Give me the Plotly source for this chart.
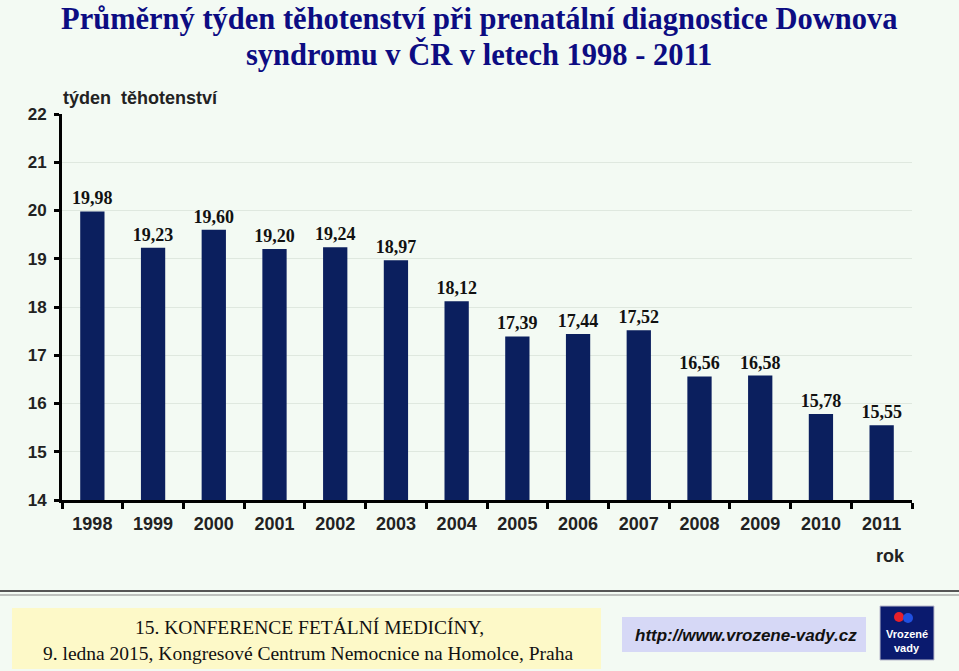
import plotly.graph_objects as go

years = ["1998", "1999", "2000", "2001", "2002", "2003", "2004",
         "2005", "2006", "2007", "2008", "2009", "2010", "2011"]
weeks = [19.98, 19.23, 19.60, 19.20, 19.24, 18.97, 18.12,
         17.39, 17.44, 17.52, 16.56, 16.58, 15.78, 15.55]
labels = [f"{v:.2f}".replace(".", ",") for v in weeks]

W, H = 959, 671
L, R, T, B = 62, 912, 114, 500  # plot area in pixels


def px(x):
    return (x - L) / (R - L)


def py(y):
    return (B - y) / (B - T)


BG = "#f3faf3"
fig = go.Figure()
fig.add_trace(go.Bar(
    x=years, y=weeks, base=0, width=0.4,
    marker=dict(color="#0b1f5e", line=dict(width=0)),
    text=labels, textposition="outside", cliponaxis=False, constraintext="none",
    textfont=dict(family="Liberation Serif", size=18, color="#111111", weight="bold"),
))

fig.update_layout(
    width=W, height=H,
    margin=dict(l=L, r=W - R, t=T, b=H - B),
    paper_bgcolor=BG, plot_bgcolor=BG,
    showlegend=False, bargap=0.6,
    xaxis=dict(type="category", showline=True, linecolor="black", linewidth=3,
               ticks="outside", tickson="boundaries", ticklen=6, tickwidth=3,
               tickcolor="black", showgrid=False, ticklabelstandoff=5,
               tickfont=dict(family="Liberation Sans", size=18, color="#222222", weight="bold")),
    yaxis=dict(range=[14, 22], dtick=1, showline=True, linecolor="black", linewidth=3,
               ticks="outside", ticklen=5, tickwidth=3, tickcolor="black", ticklabelstandoff=4,
               showgrid=True, gridcolor="#dfe8df", gridwidth=1, zeroline=False,
               tickfont=dict(family="Liberation Sans", size=17, color="#222222", weight="bold")),
)

ann = []
# Title (two lines)
ann.append(dict(text="<b>Průměrný týden těhotenství při prenatální diagnostice Downova</b>",
                xref="paper", yref="paper", x=px(479), y=py(0), xanchor="center", yanchor="top",
                showarrow=False, font=dict(family="Liberation Serif", size=30.5, color="#0c0c82")))
ann.append(dict(text="<b>syndromu v ČR v letech 1998 - 2011</b>",
                xref="paper", yref="paper", x=px(479), y=py(35.5), xanchor="center", yanchor="top",
                showarrow=False, font=dict(family="Liberation Serif", size=30.5, color="#0c0c82")))
# Axis titles
ann.append(dict(text="<b>týden  těhotenství</b>", xref="paper", yref="paper",
                x=px(61), y=py(98), xanchor="left", yanchor="middle", showarrow=False,
                font=dict(family="Liberation Sans", size=18, color="#222222")))
ann.append(dict(text="<b>rok</b>", xref="paper", yref="paper",
                x=px(890), y=py(556), xanchor="center", yanchor="middle", showarrow=False,
                font=dict(family="Liberation Sans", size=18, color="#222222")))
# Footer texts
ann.append(dict(text="15. KONFERENCE FETÁLNÍ MEDICÍNY,", xref="paper", yref="paper",
                x=px(309), y=py(627), xanchor="center", yanchor="middle", showarrow=False,
                font=dict(family="Liberation Serif", size=19.5, color="#111111")))
ann.append(dict(text="9. ledna 2015, Kongresové Centrum Nemocnice na Homolce, Praha", xref="paper", yref="paper",
                x=px(308), y=py(653), xanchor="center", yanchor="middle", showarrow=False,
                font=dict(family="Liberation Serif", size=19.5, color="#111111")))
ann.append(dict(text="<b><i>http://www.vrozene-vady.cz</i></b>", xref="paper", yref="paper",
                x=px(746), y=py(635), xanchor="center", yanchor="middle", showarrow=False,
                font=dict(family="Liberation Sans", size=17, color="#111111")))
ann.append(dict(text="<b>Vrozené</b>", xref="paper", yref="paper",
                x=px(907), y=py(634), xanchor="center", yanchor="middle", showarrow=False,
                font=dict(family="Liberation Sans", size=11, color="white")))
ann.append(dict(text="<b>vady</b>", xref="paper", yref="paper",
                x=px(907), y=py(648), xanchor="center", yanchor="middle", showarrow=False,
                font=dict(family="Liberation Sans", size=11, color="white")))
fig.update_layout(annotations=ann)

shapes = []
# Footer separator (double line)
shapes.append(dict(type="line", xref="paper", yref="paper", x0=px(0), x1=px(W), y0=py(591), y1=py(591),
                   line=dict(color="#555555", width=2)))
shapes.append(dict(type="line", xref="paper", yref="paper", x0=px(0), x1=px(W), y0=py(595), y1=py(595),
                   line=dict(color="#888888", width=1)))
# Yellow box
shapes.append(dict(type="rect", xref="paper", yref="paper", x0=px(12), x1=px(601), y0=py(608), y1=py(669),
                   fillcolor="#fdf9c8", line=dict(width=0), layer="below"))
# URL box
shapes.append(dict(type="rect", xref="paper", yref="paper", x0=px(622), x1=px(866), y0=py(617), y1=py(652),
                   fillcolor="#d6d8f6", line=dict(width=0), layer="below"))
# Logo
shapes.append(dict(type="rect", xref="paper", yref="paper", x0=px(880), x1=px(934), y0=py(606), y1=py(660),
                   fillcolor="#0a1a6e", line=dict(color="#bbbbcc", width=1), layer="below"))
shapes.append(dict(type="circle", xref="paper", yref="paper", x0=px(894), x1=px(904), y0=py(612), y1=py(622),
                   fillcolor="#e8202a", line=dict(width=0)))
shapes.append(dict(type="circle", xref="paper", yref="paper", x0=px(903), x1=px(913), y0=py(613), y1=py(623),
                   fillcolor="#2050e0", line=dict(width=0)))
fig.update_layout(shapes=shapes)

fig.write_html("out.html", config={"displayModeBar": False},
               post_script="document.body.style.margin='0';document.body.style.overflow='hidden';")
